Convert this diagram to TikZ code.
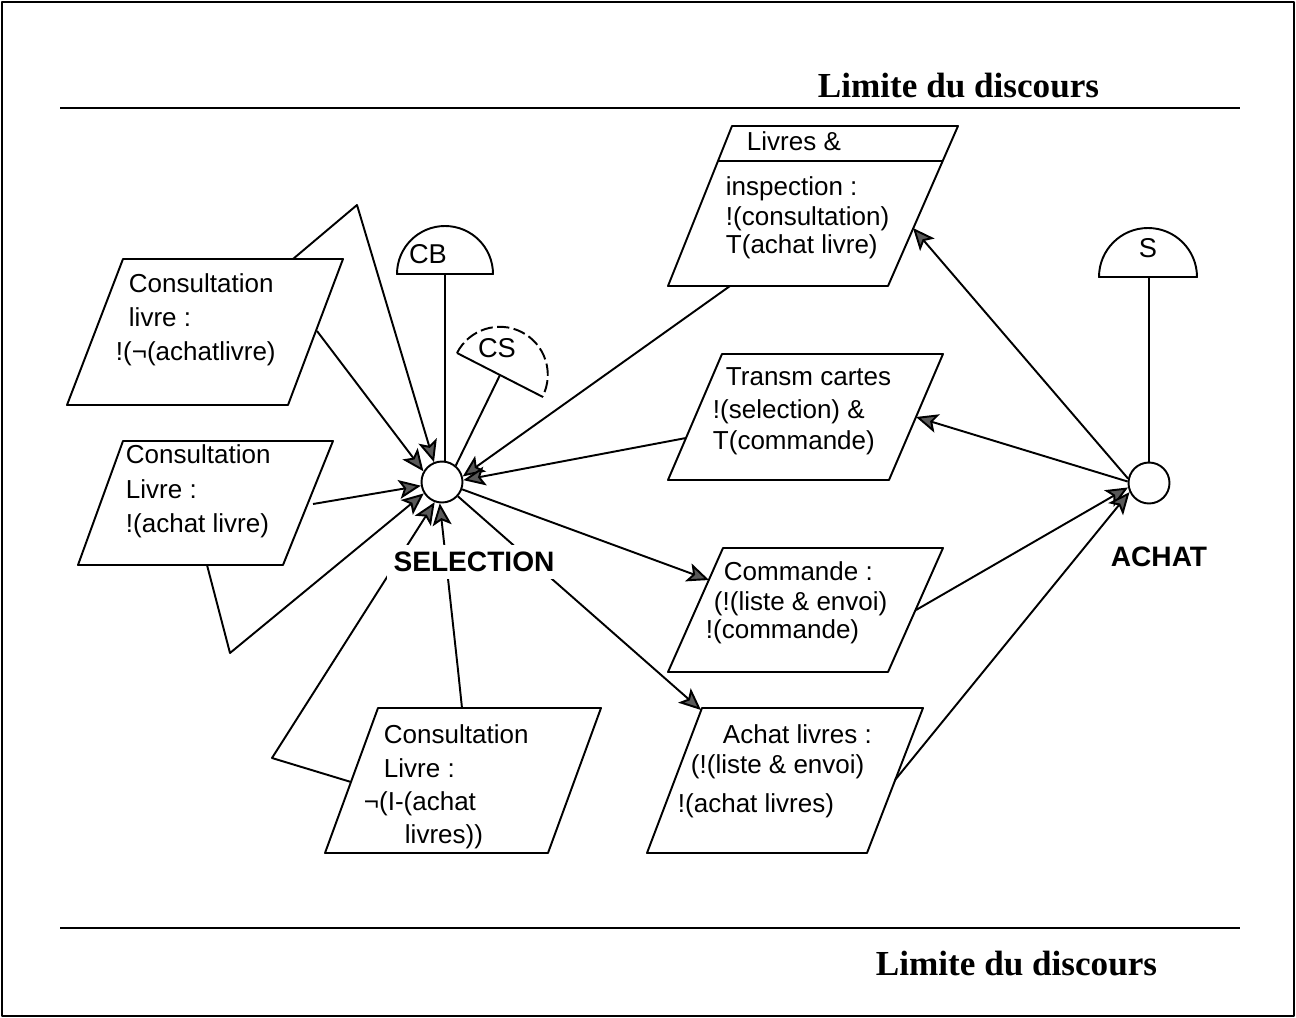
\documentclass[tikz,border=0pt]{standalone}
\usepackage{fontspec}
\setmainfont{Liberation Sans}
\newfontfamily\limfont{Liberation Serif}
\usetikzlibrary{arrows.meta}
\begin{document}
\begin{tikzpicture}[x=0.02cm,y=-0.02cm, line width=1.1pt, line join=round,
  tx/.style={anchor=base west, inner sep=0pt, font=\fontsize{14.8}{17}\selectfont},
  arr/.style={-{Stealth[length=0.44cm,width=0.38cm,inset=0.1cm,fill=black!65]}},
  proc/.style={circle, draw, minimum size=0.82cm, inner sep=0pt},
  lbl/.style={font=\fontsize{16}{18}\selectfont\bfseries, fill=white, inner sep=4pt},
  tag/.style={font=\fontsize{15.5}{18}\selectfont, inner sep=0pt},
  lim/.style={font=\limfont\bfseries\fontsize{20}{24}\selectfont, anchor=base west, inner sep=0pt},
  obj/.style={draw, line width=1.1pt}]
\useasboundingbox (0,0) rectangle (1296,1018);
\draw[line width=1.4pt] (2,2) rectangle (1294,1016);

% discourse limits
\draw (60,108) -- (1240,108);
\draw (60,928) -- (1240,928);
\node[lim] (limtop) at (817,97) {Limite du discours};
\node[lim] (limbot) at (875,975) {Limite du discours};

% process circles
\node[proc] (sel) at (442,482) {};
\node[proc] (ach) at (1149,483) {};

% semicircle tags
\draw (397,274) arc[start angle=180,end angle=360,radius=48] -- cycle;
\node[tag] (cb) at (428,254) {CB};
\draw[dash pattern=on 7pt off 2.5pt] (457,353) arc[start angle=207,end angle=387,radius=48];
\draw (457,353) -- (543,397);
\node[tag] (cs) at (497,348) {CS};
\draw (1099,277) arc[start angle=180,end angle=360,radius=49] -- cycle;
\node[tag] (s) at (1148,248) {S};

% object boxes
\draw[obj] (123,259) -- (343,259) -- (288,405) -- (67,405) -- cycle;
\draw[obj] (123,441) -- (333,441) -- (283,565) -- (78,565) -- cycle;
\draw[obj] (378,708) -- (601,708) -- (548,853) -- (325,853) -- cycle;
\draw[obj] (702,708) -- (923,708) -- (867,853) -- (647,853) -- cycle;
\draw[obj] (732,126) -- (958,126) -- (888,286) -- (668,286) -- cycle;
\draw[obj] (718,161) -- (943,161);
\draw[obj] (722,354) -- (943,354) -- (889,480) -- (668,480) -- cycle;
\draw[obj] (723,548) -- (943,548) -- (888,672) -- (668,672) -- cycle;

% texts
\node[tx] (a1) at (128,292) {Consultation};
\node[tx] (a2) at (128,326) {livre :};
\node[tx] (a3) at (115,360) {!(¬(achatlivre)};
\node[tx] (b1) at (125,463) {Consultation};
\node[tx] (b2) at (125,498) {Livre :};
\node[tx] (b3) at (125,532) {!(achat livre)};
\node[tx] (c1) at (383,743) {Consultation};
\node[tx] (c2) at (383,777) {Livre :};
\node[tx] (c3) at (363,810) {¬(I-(achat};
\node[tx] (c4) at (404,843) {livres))};
\node[tx] (d1) at (722,743) {Achat livres :};
\node[tx] (d2) at (690,773) {(!(liste \& envoi)};
\node[tx] (d3) at (677,812) {!(achat livres)};
\node[tx] (e1) at (746,150) {Livres \&};
\node[tx] (e2) at (725,195) {inspection :};
\node[tx] (e3) at (725,225) {!(consultation)};
\node[tx] (e4) at (725,253) {T(achat livre)};
\node[tx] (f1) at (725,385) {Transm cartes};
\node[tx] (f2) at (712,418) {!(selection) \&};
\node[tx] (f3) at (712,449) {T(commande)};
\node[tx] (g1) at (723,580) {Commande :};
\node[tx] (g2) at (713,610) {(!(liste \& envoi)};
\node[tx] (g3) at (705,638) {!(commande)};

% connector end points
\coordinate (aR) at (317,331);
\coordinate (aT) at (293,259);
\coordinate (apex) at (357,205);
\coordinate (bR) at (313,504);
\coordinate (bB) at (207,565);
\coordinate (vB) at (230,653);
\coordinate (cL) at (351,782);
\coordinate (cK) at (272,758);
\coordinate (cT) at (462,708);
\coordinate (cM) at (458,670);
\coordinate (eB) at (730,286);
\coordinate (eR) at (913,228);
\coordinate (fL) at (686,438);
\coordinate (fR) at (916,417);
\coordinate (gL) at (709,580);
\coordinate (gR) at (916,610);
\coordinate (dT) at (701,710);
\coordinate (dR) at (895,780);
\coordinate (csb) at (500,375);
\coordinate (cbb) at (445,274);
\coordinate (sb) at (1149,277);

% connectors
\draw[arr] (aR) -- (sel.150);
\draw[arr] (aT) -- (apex) -- (sel.112);
\draw[arr] (bR) -- (sel.190);
\draw[arr] (bB) -- (vB) -- (sel.212);
\draw[arr] (cL) -- (cK) -- (sel.250);
\draw[arr] (cT) -- (cM) -- (sel.264);
\draw (cbb) -- (sel.82);
\draw (csb) -- (sel.50);
\draw[arr] (eB) -- (sel.15);
\draw[arr] (fL) -- (sel.5);
\draw[arr] (sel.340) -- (gL);
\draw[arr] (sel.318) -- (dT);
\draw[arr] (ach.168) -- (eR);
\draw[arr] (ach.176) -- (fR);
\draw[arr] (gR) -- (ach.192);
\draw[arr] (dR) -- (ach.205);
\draw (sb) -- (ach.90);

\node[lbl] (sellbl) at (474,562) {SELECTION};
\node[lbl] (achlbl) at (1159,557) {ACHAT};
\end{tikzpicture}
\end{document}
